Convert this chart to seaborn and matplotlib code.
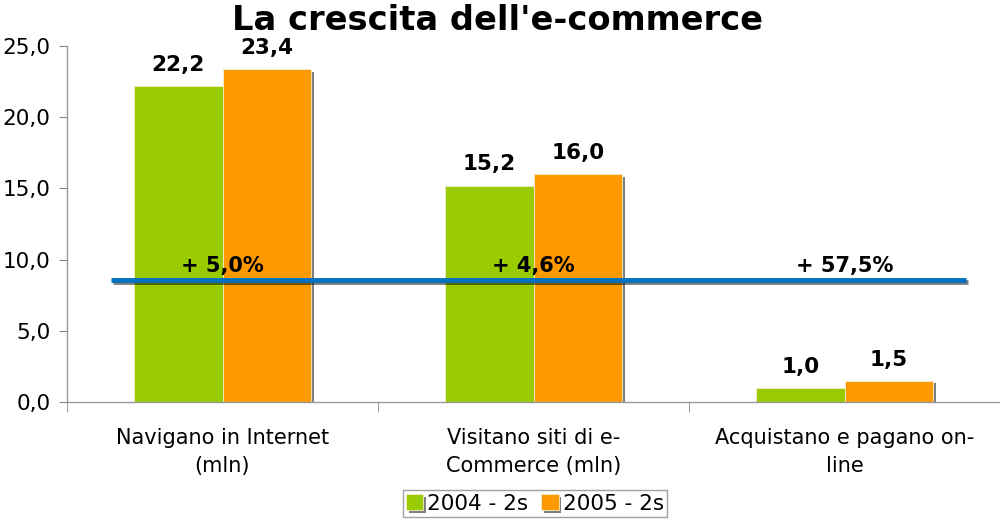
import pandas as pd
import seaborn as sns
import matplotlib
matplotlib.use("Agg")
from matplotlib import pyplot as plt
from matplotlib import patheffects as pe
from matplotlib.ticker import FuncFormatter, FixedLocator

# values
categories = ["Navigano in Internet\n(mln)", "Visitano siti di e-\nCommerce (mln)", "Acquistano e pagano on-\nline"]
series = ["2004 - 2s", "2005 - 2s"]
values_2004 = [22.2, 15.2, 1.0]
values_2005 = [23.4, 16.0, 1.5]
growth = ["+ 5,0%", "+ 4,6%", "+ 57,5%"]
growth_y = 9.55
trend_level = 8.6
trend_span = [-0.36, 2.39]

df = pd.DataFrame({
    "categoria": categories * 2,
    "serie": [series[0]] * 3 + [series[1]] * 3,
    "valore": values_2004 + values_2005,
})

sns.set_style("white")
plt.rcParams["font.family"] = ["DejaVu Sans"]
plt.rcParams["text.color"] = "black"

fig = plt.figure(figsize=(10, 5.19), dpi=100)
ax = fig.add_axes([0.067, 0.2254, 0.933, 0.686])

sns.barplot(data=df, x="categoria", y="valore", hue="serie",
            palette=["#99CC00", "#FF9900"], width=0.57, gap=0,
            edgecolor="#f3efc8", linewidth=0.6, saturation=1, ax=ax)

shadow = [pe.SimplePatchShadow(offset=(2, -2), shadow_rgbFace="black", alpha=0.5), pe.Normal()]
for p in ax.patches:
    p.set_path_effects(shadow)

for cont in ax.containers:
    ax.bar_label(cont, labels=[f"{v:.1f}".replace(".", ",") for v in cont.datavalues],
                 padding=8, fontsize=15.5, fontweight="bold", color="black")

ax.plot(trend_span, [trend_level, trend_level], color="#0070C0", lw=3.5, solid_capstyle="butt",
        path_effects=[pe.SimpleLineShadow(offset=(1.5, -1.5), alpha=0.5), pe.Normal()])

for i, g in enumerate(growth):
    ax.text(i, growth_y, g, ha="center", va="center", fontsize=15, fontweight="bold", color="black")

ax.set_ylim(0, 25)
ax.set_xlim(-0.5, 2.5)
ax.set_yticks([0, 5, 10, 15, 20, 25])
ax.yaxis.set_major_formatter(FuncFormatter(lambda v, _: f"{v:.1f}".replace(".", ",")))
ax.tick_params(axis="y", length=6, color="#888888", labelcolor="black", labelsize=15.5, pad=6, left=True)
ax.tick_params(axis="x", which="major", length=0, labelcolor="black", labelsize=15, pad=19)
ax.xaxis.set_minor_locator(FixedLocator([-0.5, 0.5, 1.5, 2.5]))
ax.tick_params(axis="x", which="minor", length=7, color="#888888", bottom=True)
for lbl in ax.get_xticklabels():
    lbl.set_linespacing(1.45)
ax.set_xlabel("")
ax.set_ylabel("")

for s in ["top", "right"]:
    ax.spines[s].set_visible(False)
for s in ["left", "bottom"]:
    ax.spines[s].set_color("#999999")
    ax.spines[s].set_linewidth(1)

ax.legend_.remove()
handles, labels = ax.get_legend_handles_labels()
leg = fig.legend(handles, labels, loc="lower center", bbox_to_anchor=(0.535, 0.0), ncol=2,
                 fontsize=15.5, frameon=True, fancybox=False, edgecolor="#888888",
                 handlelength=0.8, handleheight=0.8, handletextpad=0.2, columnspacing=0.6,
                 borderpad=0.15, borderaxespad=0.1)
for t in leg.get_texts():
    t.set_color("black")

fig.suptitle("La crescita dell'e-commerce", x=0.497, y=0.993, fontsize=24.2,
             fontweight="bold", color="black")

fig.savefig("out.png", dpi=100)
